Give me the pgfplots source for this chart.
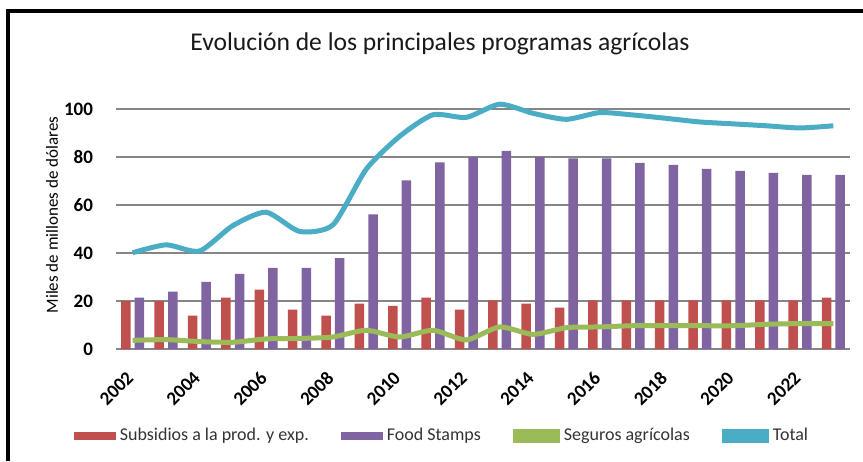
\documentclass[border=0pt]{standalone}
\usepackage{pgfplots}
\pgfplotsset{compat=1.18}
\usepackage{fontspec}
\setmainfont{Carlito}
\definecolor{cRed}{HTML}{C0504D}
\definecolor{cPur}{HTML}{8064A2}
\definecolor{cGrn}{HTML}{9BBB59}
\definecolor{cCyn}{HTML}{4BACC6}
\definecolor{cGrid}{HTML}{868686}
\begin{document}
\begin{tikzpicture}[x=1pt,y=1pt]
\useasboundingbox (0,0) rectangle (431.5,230.5);
\draw[line width=2pt] (4,0) -- (4,225) -- (431.5,225);
\node[font=\fontsize{12.8}{15}\selectfont, text=black!90] at (220,208.5) {Evolución de los principales programas agrícolas};
\begin{axis}[
  at={(58pt,56pt)}, anchor=south west, scale only axis,
  width=367pt, height=120pt,
  xmin=2001.5, xmax=2023.5, ymin=0, ymax=100, clip=false,
  axis x line*=bottom, axis y line*=left,
  y axis line style={draw=none},
  x axis line style={cGrid, line width=1.4pt, -},
  tick style={draw=none},
  ymajorgrids, grid style={cGrid, line width=0.9pt},
  ytick={0,20,...,100},
  xtick={2002,2004,...,2022},
  /pgf/number format/1000 sep={},
  /pgf/number format/assume math mode=true,
  xticklabel style={xshift=1.2pt, yshift=-10.5pt, rotate=45, anchor=east, font=\bfseries\fontsize{9.5}{11}\selectfont},
  yticklabel style={font=\bfseries\fontsize{9.5}{11}\selectfont, xshift=-8pt},
  ylabel={Miles de millones de dólares},
  ylabel style={at={(axis description cs:-0.087,0.558)}, anchor=center, font=\fontsize{8.5}{10}\selectfont},
  legend style={at={(0.4455,-0.3625)}, anchor=center, draw=none, fill=none, legend columns=4,
    font=\fontsize{9}{11}\selectfont, text=black!80,
    /tikz/every even column/.append style={column sep=14pt}},
]
\addplot[ybar, bar width=4.75pt, bar shift=-3.4pt, fill=cRed, draw=none,
  legend image code/.code={\fill[cRed] (0pt,-2.2pt) rectangle (21pt,2.2pt);}]
coordinates {(2002,20) (2003,20) (2004,13.9) (2005,21.4) (2006,24.7) (2007,16.4) (2008,13.9) (2009,18.9) (2010,18) (2011,21.4) (2012,16.4) (2013,20.3) (2014,18.9) (2015,17.2) (2016,20.3) (2017,20.3) (2018,20.3) (2019,20.3) (2020,20.3) (2021,20.3) (2022,20.3) (2023,21.4)};
\addlegendentry{Subsidios a la prod. y exp.}
\addplot[ybar, bar width=4.75pt, bar shift=3.4pt, fill=cPur, draw=none,
  legend image code/.code={\fill[cPur] (0pt,-2.2pt) rectangle (21pt,2.2pt);}]
coordinates {(2002,21.4) (2003,23.9) (2004,28) (2005,31.3) (2006,33.8) (2007,33.8) (2008,37.9) (2009,56.1) (2010,70.3) (2011,77.8) (2012,80.1) (2013,82.5) (2014,80) (2015,79.4) (2016,79.4) (2017,77.5) (2018,76.7) (2019,75) (2020,74.2) (2021,73.4) (2022,72.6) (2023,72.6)};
\addlegendentry{Food Stamps}
\addplot[cGrn, line width=2.5pt, smooth, tension=0.4,
  legend image code/.code={\fill[cGrn] (0pt,-2.2pt) rectangle (21pt,2.2pt);}]
coordinates {(2002,3.6) (2003,3.9) (2004,3.1) (2005,2.8) (2006,4.2) (2007,4.4) (2008,5) (2009,7.8) (2010,5) (2011,7.8) (2012,3.8) (2013,9.2) (2014,6.1) (2015,8.9) (2016,9.2) (2017,9.7) (2018,9.7) (2019,9.7) (2020,9.7) (2021,10.3) (2022,10.6) (2023,10.6)};
\addlegendentry{Seguros agrícolas}
\addplot[cCyn, line width=2.5pt, smooth, tension=0.4,
  legend image code/.code={\fill[cCyn] (0pt,-2.2pt) rectangle (21pt,2.2pt);}]
coordinates {(2002,40.1) (2003,43.4) (2004,40.8) (2005,51.4) (2006,57) (2007,49) (2008,51.7) (2009,74.9) (2010,88.6) (2011,97.6) (2012,96.5) (2013,102) (2014,98.2) (2015,95.7) (2016,98.5) (2017,97.5) (2018,96.1) (2019,94.6) (2020,93.8) (2021,93) (2022,92.1) (2023,93)};
\addlegendentry{Total}
\end{axis}
\end{tikzpicture}
\end{document}
